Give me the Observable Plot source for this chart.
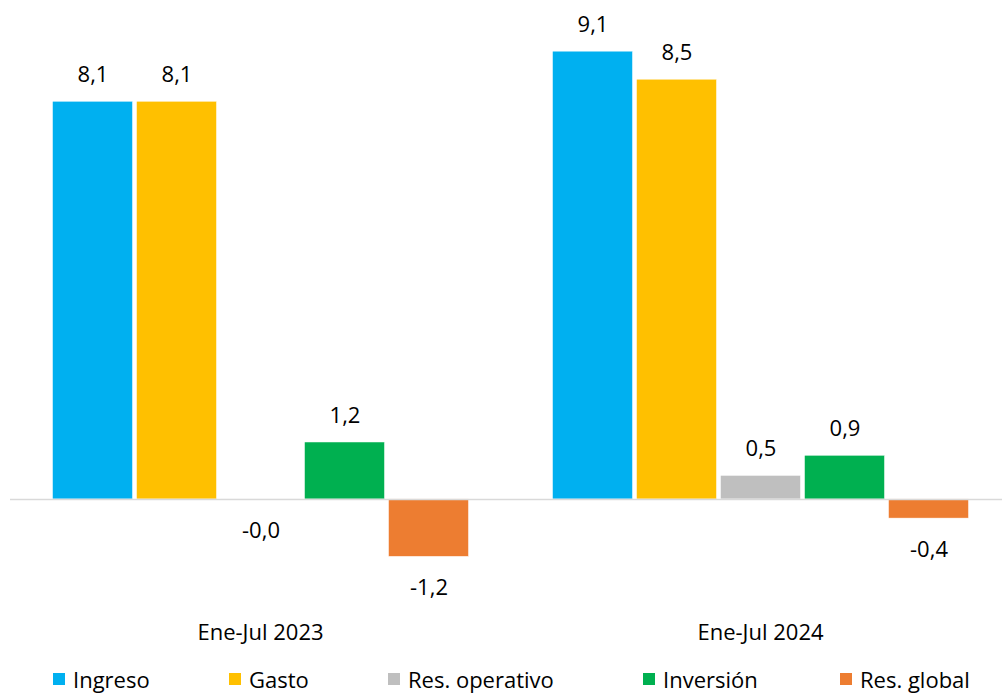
<!DOCTYPE html>
<html>
<head>
<meta charset="utf-8">
<script src="https://cdn.jsdelivr.net/npm/d3@7"></script>
<script src="https://cdn.jsdelivr.net/npm/@observablehq/plot@0.6"></script>
<style>
  html, body { margin: 0; padding: 0; background: #fff; }
  body { width: 1002px; height: 693px; overflow: hidden; font-family: "Open Sans", Lato, sans-serif; position: relative; }
  #legend { position: absolute; left: 0; top: 650px; width: 1002px; height: 43px; font-size: 22px; color: #000; }
  .item { position: absolute; top: 14px; display: flex; align-items: center; height: 30px; white-space: nowrap; }
  .sw { width: 12px; height: 12px; margin-right: 8px; }
</style>
</head>
<body>
<div id="chart"></div>
<div id="legend"></div>
<script>
const groups = ["Ene-Jul 2023", "Ene-Jul 2024"];
const series = ["Ingreso", "Gasto", "Res. operativo", "Inversión", "Res. global"];
const colors = ["#00B0F0", "#FFC000", "#BFBFBF", "#00B050", "#ED7D31"];
const values2023 = [8.1, 8.1, -0.02, 1.16, -1.17];
const values2024 = [9.12, 8.549, 0.48, 0.89, -0.39];
const legendLeft = [53, 229, 388, 643, 840];

const data = [];
series.forEach((s, i) => data.push({group: groups[0], series: s, value: values2023[i]}));
series.forEach((s, i) => data.push({group: groups[1], series: s, value: values2024[i]}));

const fmt = v => v.toFixed(1).replace(".", ",");
const font = "'Open Sans', Lato, sans-serif";

const chart = Plot.plot({
  width: 1002,
  height: 650,
  marginTop: 32.5,
  marginBottom: 28.3,
  marginLeft: 19.5,
  marginRight: 2.5,
  style: {fontFamily: font, background: "#fff"},
  fx: {domain: groups, paddingInner: 0.04, paddingOuter: 0, axis: null},
  x: {domain: series, paddingInner: 0.05, paddingOuter: 0.38, axis: null},
  y: {domain: [-2.5, 9.5], axis: null},
  color: {domain: series, range: colors},
  marks: [
    Plot.barY(data, {fx: "group", x: "series", y: "value", fill: "series", stroke: "#fff", strokeWidth: 0.5}),
    Plot.ruleY([0], {stroke: "#D9D9D9", strokeWidth: 1.5, insetLeft: -10, insetRight: -10}),
    Plot.text(data.filter(d => d.value >= 0), {fx: "group", x: "series", y: "value", text: d => fmt(d.value), dy: -27, fontSize: 22, fill: "#000", lineAnchor: "middle"}),
    Plot.text(data.filter(d => d.value < 0), {fx: "group", x: "series", y: "value", text: d => fmt(d.value), dy: 31, fontSize: 22, fill: "#000", lineAnchor: "middle"}),
    Plot.text(groups, {fx: d => d, text: d => d, frameAnchor: "bottom", dy: 11, fontSize: 22, fill: "#000", lineAnchor: "middle"})
  ]
});
document.getElementById("chart").appendChild(chart);

const legend = document.getElementById("legend");
series.forEach((s, i) => {
  const it = document.createElement("div");
  it.className = "item";
  it.style.left = legendLeft[i] + "px";
  const sw = document.createElement("span");
  sw.className = "sw";
  sw.style.background = colors[i];
  const t = document.createElement("span");
  t.textContent = s;
  it.appendChild(sw);
  it.appendChild(t);
  legend.appendChild(it);
});
</script>
</body>
</html>
